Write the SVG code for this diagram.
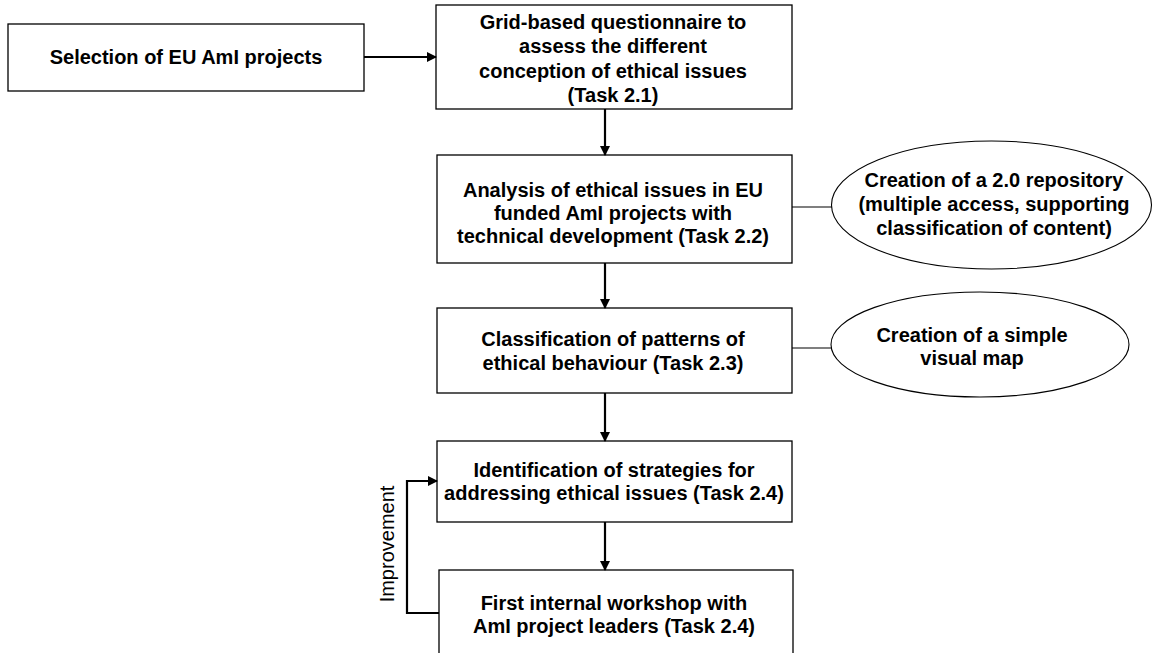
<svg xmlns="http://www.w3.org/2000/svg" width="1153" height="653" viewBox="0 0 1153 653">
<style>
.box{fill:#fff;stroke:#000;stroke-width:1.3}
.ell{fill:#fff;stroke:#000;stroke-width:1.1}
.t{font-family:"Liberation Sans",Arial,sans-serif;font-weight:bold;font-size:20px;text-anchor:middle;fill:#000}
.lbl{font-family:"Liberation Sans",Arial,sans-serif;font-size:20px;text-anchor:middle;fill:#000}
.c{fill:none;stroke:#000;stroke-width:2.2}
.thin{fill:none;stroke:#000;stroke-width:1.1}
</style>
<defs>
<marker id="ah" markerWidth="10" markerHeight="10" refX="9" refY="5" orient="auto" markerUnits="userSpaceOnUse">
<path d="M0,0 L10,5 L0,10 Z" fill="#000"/>
</marker>
</defs>
<rect width="1153" height="653" fill="#fff"/>
<g id="n1"><rect class="box" x="8" y="24" width="356" height="67"/><text class="t" x="186" y="64">Selection of EU AmI projects</text></g>
<g id="n2"><rect class="box" x="436" y="5" width="356" height="104"/>
<text class="t" x="613" y="29">Grid-based questionnaire to</text>
<text class="t" x="613" y="53">assess the different</text>
<text class="t" x="613" y="78">conception of ethical issues</text>
<text class="t" x="613" y="102">(Task 2.1)</text></g>
<g id="n3"><rect class="box" x="437" y="155" width="355" height="108"/>
<text class="t" x="613" y="197">Analysis of ethical issues in EU</text>
<text class="t" x="613" y="220">funded AmI projects with</text>
<text class="t" x="613" y="243">technical development (Task 2.2)</text></g>
<g id="n4"><ellipse class="ell" cx="991.5" cy="205" rx="160" ry="64"/>
<text class="t" x="994" y="187">Creation of a 2.0 repository</text>
<text class="t" x="994" y="211">(multiple access, supporting</text>
<text class="t" x="994" y="235">classification of content)</text></g>
<g id="n5"><rect class="box" x="437" y="308" width="355" height="85"/>
<text class="t" x="613" y="346">Classification of patterns of</text>
<text class="t" x="613" y="370">ethical behaviour (Task 2.3)</text></g>
<g id="n6"><ellipse class="ell" cx="980" cy="344.5" rx="149" ry="52.5"/>
<text class="t" x="972" y="342">Creation of a simple</text>
<text class="t" x="972" y="365">visual map</text></g>
<g id="n7"><rect class="box" x="437" y="441" width="355" height="81"/>
<text class="t" x="614" y="477">Identification of strategies for</text>
<text class="t" x="614" y="500">addressing ethical issues (Task 2.4)</text></g>
<g id="n8"><rect class="box" x="439" y="570" width="354" height="100"/>
<text class="t" x="614" y="610">First internal workshop with</text>
<text class="t" x="614" y="633">AmI project leaders (Task 2.4)</text></g>
<g id="connectors">
<line class="c" x1="364" y1="57" x2="436" y2="57" marker-end="url(#ah)"/>
<line class="c" x1="605" y1="109" x2="605" y2="155" marker-end="url(#ah)"/>
<line class="thin" x1="792" y1="207" x2="832" y2="207"/>
<line class="c" x1="605" y1="263" x2="605" y2="308" marker-end="url(#ah)"/>
<line class="thin" x1="792" y1="348" x2="831" y2="348"/>
<line class="c" x1="605" y1="393" x2="605" y2="441" marker-end="url(#ah)"/>
<line class="c" x1="605" y1="522" x2="605" y2="570" marker-end="url(#ah)"/>
<polyline class="c" points="439,613 407,613 407,481 437,481" marker-end="url(#ah)"/>
<text class="lbl" transform="translate(394,544) rotate(-90)">Improvement</text>
</g>
</svg>
